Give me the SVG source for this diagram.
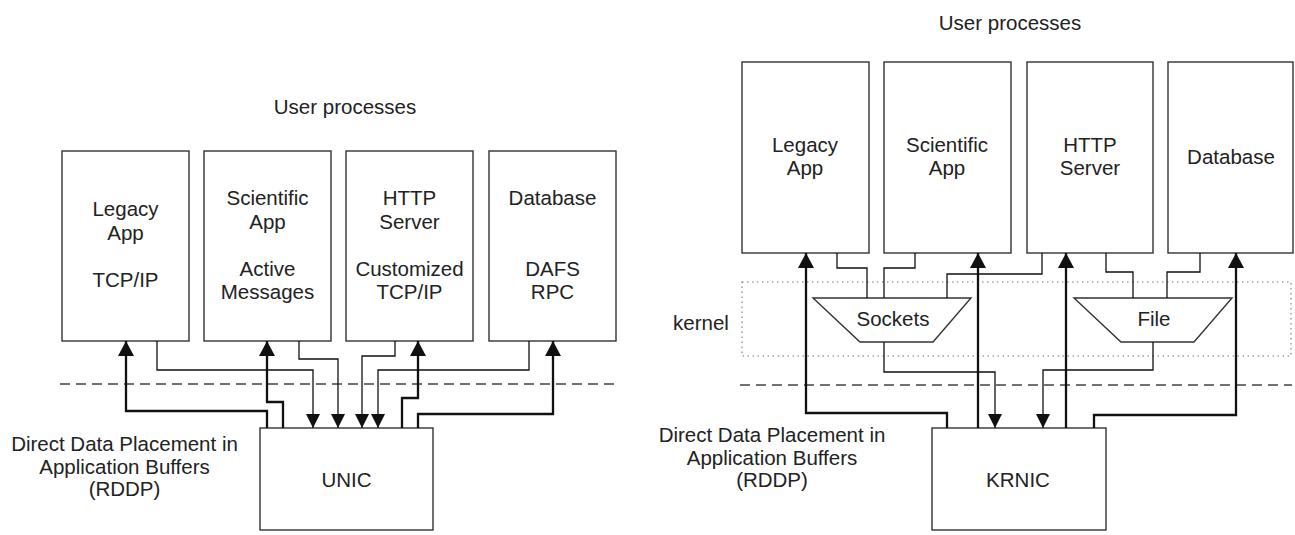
<svg xmlns="http://www.w3.org/2000/svg" width="1295" height="535" viewBox="0 0 1295 535">
  <defs>
    <style>
      .box { fill: #ffffff; stroke: #333333; stroke-width: 1.4; }
      .lbl { font-family: "Liberation Sans", Arial, sans-serif; font-size: 20.5px; fill: #222222; text-anchor: middle; }
      .thin { fill: none; stroke: #111111; stroke-width: 1.3; }
      .thick { fill: none; stroke: #111111; stroke-width: 2.3; }
      .dash { fill: none; stroke: #444444; stroke-width: 1.3; stroke-dasharray: 10 6; }
      .dot { fill: none; stroke: #777777; stroke-width: 1.1; stroke-dasharray: 1.5 3.5; }
    </style>
    <marker id="headThin" markerUnits="userSpaceOnUse" markerWidth="15" markerHeight="14" refX="14" refY="7" orient="auto">
      <path d="M0,0 L14,7 L0,14 Z" fill="#111111"/>
    </marker>
    <marker id="headThick" markerUnits="userSpaceOnUse" markerWidth="16" markerHeight="16" refX="15" refY="8" orient="auto">
      <path d="M0,0 L15,8 L0,16 Z" fill="#111111"/>
    </marker>
  </defs>

  <rect width="1295" height="535" fill="#ffffff"/>

  <!-- Left panel: user-level NIC -->
  <text class="lbl" x="345" y="114">User processes</text>
  <line class="dash" x1="60" y1="384" x2="617" y2="384"/>

  <g id="l-legacy">
    <rect class="box" x="62" y="151" width="127" height="190"/>
    <text class="lbl" x="125.5" y="216">Legacy</text>
    <text class="lbl" x="125.5" y="240">App</text>
    <text class="lbl" x="125.5" y="287">TCP/IP</text>
  </g>
  <g id="l-scientific">
    <rect class="box" x="204" y="151" width="127" height="190"/>
    <text class="lbl" x="267.5" y="205">Scientific</text>
    <text class="lbl" x="267.5" y="229">App</text>
    <text class="lbl" x="267.5" y="276">Active</text>
    <text class="lbl" x="267.5" y="299">Messages</text>
  </g>
  <g id="l-http">
    <rect class="box" x="346" y="151" width="127" height="190"/>
    <text class="lbl" x="409.5" y="205">HTTP</text>
    <text class="lbl" x="409.5" y="229">Server</text>
    <text class="lbl" x="409.5" y="276">Customized</text>
    <text class="lbl" x="409.5" y="299">TCP/IP</text>
  </g>
  <g id="l-database">
    <rect class="box" x="489" y="151" width="127" height="190"/>
    <text class="lbl" x="552.5" y="205">Database</text>
    <text class="lbl" x="552.5" y="276">DAFS</text>
    <text class="lbl" x="552.5" y="299">RPC</text>
  </g>
  <g id="unic">
    <rect class="box" x="260" y="428" width="173" height="102"/>
    <text class="lbl" x="346.5" y="487">UNIC</text>
  </g>
  <g id="l-rddp">
    <text class="lbl" x="124.5" y="451">Direct Data Placement in</text>
    <text class="lbl" x="124.5" y="474">Application Buffers</text>
    <text class="lbl" x="124.5" y="496">(RDDP)</text>
  </g>

  <!-- Right panel: kernel NIC -->
  <text class="lbl" x="1010" y="30">User processes</text>
  <rect class="dot" x="742" y="282" width="549" height="74"/>
  <text class="lbl" x="701" y="330">kernel</text>
  <line class="dash" x1="740" y1="385" x2="1292" y2="385"/>

  <g id="r-legacy">
    <rect class="box" x="742" y="62" width="127" height="191"/>
    <text class="lbl" x="805" y="152">Legacy</text>
    <text class="lbl" x="805" y="175">App</text>
  </g>
  <g id="r-scientific">
    <rect class="box" x="884" y="62" width="127" height="191"/>
    <text class="lbl" x="947" y="152">Scientific</text>
    <text class="lbl" x="947" y="175">App</text>
  </g>
  <g id="r-http">
    <rect class="box" x="1027" y="62" width="126" height="191"/>
    <text class="lbl" x="1090" y="152">HTTP</text>
    <text class="lbl" x="1090" y="175">Server</text>
  </g>
  <g id="r-database">
    <rect class="box" x="1168" y="62" width="125" height="191"/>
    <text class="lbl" x="1231" y="164">Database</text>
  </g>
  <g id="sockets">
    <polygon class="box" points="813,298 971,298 933,342 860,342"/>
    <text class="lbl" x="893" y="326">Sockets</text>
  </g>
  <g id="file">
    <polygon class="box" points="1074,298 1232,298 1194,342 1121,342"/>
    <text class="lbl" x="1154" y="326">File</text>
  </g>
  <g id="krnic">
    <rect class="box" x="932" y="428" width="174" height="102"/>
    <text class="lbl" x="1018" y="487">KRNIC</text>
  </g>
  <g id="r-rddp">
    <text class="lbl" x="772" y="442">Direct Data Placement in</text>
    <text class="lbl" x="772" y="465">Application Buffers</text>
    <text class="lbl" x="772" y="487">(RDDP)</text>
  </g>

  <!-- Connectors -->
  <g id="connectors">
    <!-- left: NIC delivers into application buffers -->
    <path class="thick" marker-end="url(#headThick)" d="M267,428 V411 H126 V341"/>
    <path class="thick" marker-end="url(#headThick)" d="M283,428 V402 H267 V341"/>
    <path class="thick" marker-end="url(#headThick)" d="M402,428 V398 H418 V341"/>
    <path class="thick" marker-end="url(#headThick)" d="M418,428 V414 H553 V341"/>
    <!-- left: applications send to NIC -->
    <path class="thin" marker-end="url(#headThin)" d="M157,341 V370 H313 V428"/>
    <path class="thin" marker-end="url(#headThin)" d="M299,341 V359 H338 V428"/>
    <path class="thin" marker-end="url(#headThin)" d="M395,341 V356 H362 V428"/>
    <path class="thin" marker-end="url(#headThin)" d="M529,341 V370 H378 V428"/>

    <!-- right: NIC delivers into application buffers -->
    <path class="thick" marker-end="url(#headThick)" d="M947,428 V413 H806 V253"/>
    <path class="thick" marker-end="url(#headThick)" d="M978,428 V253"/>
    <path class="thick" marker-end="url(#headThick)" d="M1066,428 V253"/>
    <path class="thick" marker-end="url(#headThick)" d="M1094,428 V415 H1236 V253"/>
    <!-- right: applications into kernel layers -->
    <path class="thin" d="M837,253 V268 H867 V298"/>
    <path class="thin" d="M915,253 V268 H884 V298"/>
    <path class="thin" d="M1042,253 V274 H947 V298"/>
    <path class="thin" d="M1106,253 V272 H1133 V298"/>
    <path class="thin" d="M1200,253 V272 H1167 V298"/>
    <!-- right: kernel layers send to NIC -->
    <path class="thin" marker-end="url(#headThin)" d="M884,342 V372 H995 V428"/>
    <path class="thin" marker-end="url(#headThin)" d="M1153,342 V370 H1043 V428"/>
  </g>
</svg>
